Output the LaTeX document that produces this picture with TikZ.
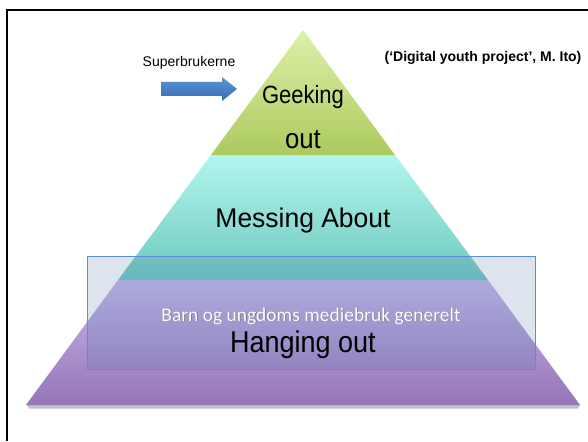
\documentclass[tikz,border=0pt]{standalone}
\usepackage{fontspec}
\setmainfont{Liberation Sans}
\newfontfamily\calib{Carlito}
\definecolor{gtop}{RGB}{222,240,170}
\definecolor{gbot}{RGB}{172,202,94}
\definecolor{ttop}{RGB}{178,246,238}
\definecolor{tbot}{RGB}{110,200,190}
\definecolor{ptop}{RGB}{196,184,236}
\definecolor{pbot}{RGB}{150,116,182}
\definecolor{atop}{RGB}{92,148,214}
\definecolor{abot}{RGB}{56,108,176}
\definecolor{ovl}{RGB}{85,120,170}
\definecolor{ovlline}{RGB}{92,142,214}
\tikzset{
  tier/.style={draw=none},
  lbl/.style={anchor=base, inner sep=0pt, text=black},
}
\begin{document}
\begin{tikzpicture}[x=1pt,y=-1pt]
\useasboundingbox[fill=white] (0,0) rectangle (588,441);
% frame
\draw[line width=2.5pt] (7,441) -- (7,10) -- (588,10);
% shadow
\fill[black!25] (27,405) -- (580,405) -- (578,408.5) -- (29,408.5) -- cycle;
% tiers
\shade[tier, top color=ptop, bottom color=pbot] (118,280) -- (488,280) -- (580,405) -- (26,405) -- cycle;
\shade[tier, top color=ttop, bottom color=tbot] (211,155) -- (395,155) -- (488,280) -- (118,280) -- cycle;
\shade[tier, top color=gtop, bottom color=gbot] (303,30) -- (395,155) -- (211,155) -- cycle;
% overlay rectangle
\fill[ovl, fill opacity=0.2] (87,256) rectangle (535,369);
\draw[ovlline, line width=0.8pt] (87,256) rectangle (535,369);
% block arrow
\shade[top color=atop, bottom color=abot, draw=none] (161,82) -- (222,82) -- (222,77) -- (237,89) -- (222,101) -- (222,96) -- (161,96) -- cycle;
% texts
\node[lbl, font=\fontsize{25}{25}\selectfont] (geek) at (303,103) {\scalebox{0.88}[1]{Geeking}};
\node[lbl, font=\fontsize{28}{28}\selectfont] (out) at (303,148) {\scalebox{0.92}[1]{out}};
\node[lbl, font=\fontsize{27}{27}\selectfont] (mess) at (303,227) {\scalebox{0.98}[1]{Messing About}};
\node[lbl, font=\calib\fontsize{19.5}{20}\selectfont, text=black!55] at (311.6,321.6) {Barn og ungdoms mediebruk generelt};
\node[lbl, font=\calib\fontsize{19.5}{20}\selectfont, text=white] (barn) at (311,321) {Barn og ungdoms mediebruk generelt};
\node[lbl, font=\fontsize{30}{30}\selectfont] (hang) at (303,352) {\scalebox{0.9}[1]{Hanging out}};
\node[lbl, font=\fontsize{14}{14}\selectfont] (super) at (189,67) {Superbrukerne};
\node[lbl, font=\bfseries\fontsize{14}{14}\selectfont] (cite) at (483,61.5) {(‘Digital youth project’, M. Ito)};
\end{tikzpicture}
\end{document}
